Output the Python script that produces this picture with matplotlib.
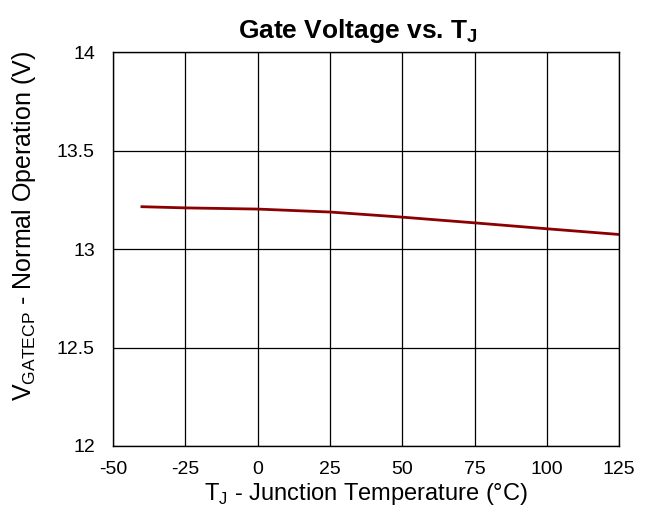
import matplotlib
matplotlib.use("Agg")
import matplotlib.pyplot as plt

plt.rcParams['font.family'] = ['Liberation Sans', 'DejaVu Sans']
plt.rcParams['mathtext.fontset'] = 'custom'
plt.rcParams['mathtext.rm'] = 'Liberation Sans'
plt.rcParams['mathtext.bf'] = 'Liberation Sans:bold'
plt.rcParams['axes.unicode_minus'] = False

# data
temp_c = [-40, -25, 0, 25, 50, 75, 100, 125]
vgate = [13.215, 13.209, 13.203, 13.188, 13.162, 13.133, 13.103, 13.074]

x_ticks = [-50, -25, 0, 25, 50, 75, 100, 125]
y_ticks = [12, 12.5, 13, 13.5, 14]
y_labels = ['12', '12.5', '13', '13.5', '14']

fig = plt.figure(figsize=(6.51, 5.16), dpi=100)
ax = fig.add_axes([0.1736, 0.1357, 0.7774, 0.7633])

ax.plot(temp_c, vgate, color='#8b0000', linewidth=2)

ax.set_xlim(-50, 125)
ax.set_ylim(12, 14)
ax.set_xticks(x_ticks)
ax.set_yticks(y_ticks)
ax.set_yticklabels(y_labels)
ax.grid(True, color='black', linewidth=0.9)
ax.tick_params(length=0, labelsize=14)
ax.tick_params(axis='y', pad=13)
ax.tick_params(axis='x', pad=11)
for s in ax.spines.values():
    s.set_linewidth(1)

ax.set_title(r'Gate Voltage vs. T$_\mathbf{J}$', fontsize=19, fontweight='bold', pad=10, x=0.485)
ax.set_xlabel(r'T$_\mathregular{J}$ - Junction Temperature (°C)', fontsize=17, labelpad=2)
ax.set_ylabel(r'V$_\mathregular{GATECP}$ - Normal Operation (V)', fontsize=18)
ax.yaxis.set_label_coords(-0.148, 0.558)

fig.savefig('out.png', dpi=100)
